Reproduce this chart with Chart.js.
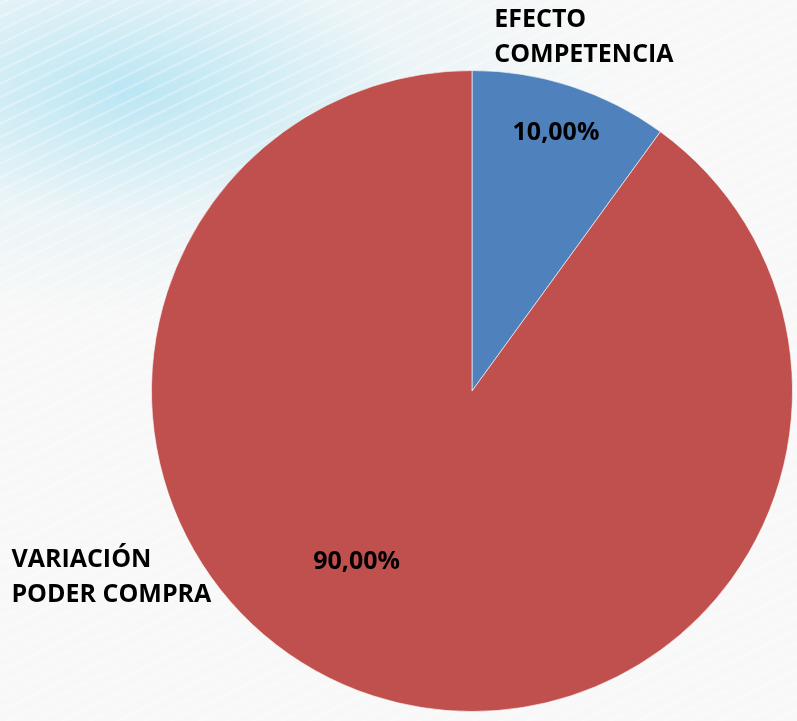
<!DOCTYPE html>
<html>
<head>
<meta charset="utf-8">
<script src="https://cdn.jsdelivr.net/npm/chart.js@4/dist/chart.umd.min.js"></script>
<style>
  html, body { margin: 0; padding: 0; }
  body {
    width: 797px; height: 721px; overflow: hidden;
    background:
      repeating-linear-gradient(-26deg, rgba(255,255,255,0) 0px, rgba(255,255,255,0) 8px, rgba(255,255,255,0.35) 10px, rgba(255,255,255,0) 12px),
      radial-gradient(ellipse 500px 230px at 130px 90px, rgba(160,222,242,0.7), rgba(205,236,245,0.3) 55%, rgba(250,250,250,0) 100%),
      #f8f8f8;
  }
  canvas { display: block; }
</style>
</head>
<body>
<canvas id="pieChart" width="797" height="721"></canvas>
<script>
const categories = ['EFECTO COMPETENCIA', 'VARIACIÓN PODER COMPRA'];
const values = [10, 90];
const valueLabels = ['10,00%', '90,00%'];
const sliceColors = ['#4F81BD', '#C0504D'];

const labelFont = 'bold 25px "Open Sans", "DejaVu Sans", sans-serif';
const lineGap = 35;

// Label anchors: angle in degrees clockwise from 12 o'clock, distance as fraction of radius
const valuePos = [{ ang: 18, frac: 0.848 }, { ang: 214, frac: 0.644 }];
const catPos = [
    { ang: 3.6, frac: 1.105, lines: ['EFECTO', 'COMPETENCIA'] },
    { ang: 248, frac: 1.55, lines: ['VARIACIÓN', 'PODER COMPRA'] }
];

function polar(cx, cy, r, ang, frac) {
    const a = (ang - 90) * Math.PI / 180;
    return { x: cx + Math.cos(a) * r * frac, y: cy + Math.sin(a) * r * frac };
}

const labelPlugin = {
    id: 'pieLabels',
    afterDatasetsDraw(chart) {
        const ctx = chart.ctx;
        const arc = chart.getDatasetMeta(0).data[0];
        const cx = arc.x, cy = arc.y, r = arc.outerRadius;
        ctx.save();
        ctx.font = labelFont;
        ctx.fillStyle = '#000';
        ctx.textBaseline = 'middle';

        valueLabels.forEach((txt, i) => {
            const p = polar(cx, cy, r, valuePos[i].ang, valuePos[i].frac);
            ctx.textAlign = 'center';
            ctx.fillText(txt, p.x, p.y);
        });

        catPos.forEach(c => {
            const p = polar(cx, cy, r, c.ang, c.frac);
            ctx.textAlign = 'left';
            c.lines.forEach((line, j) => {
                ctx.fillText(line, p.x, p.y + (j - (c.lines.length - 1) / 2) * lineGap);
            });
        });
        ctx.restore();
    }
};

new Chart(document.getElementById('pieChart'), {
    type: 'pie',
    data: {
        labels: categories,
        datasets: [{
            data: values,
            backgroundColor: sliceColors,
            borderColor: 'rgba(255,255,255,0.6)',
            borderWidth: 1
        }]
    },
    options: {
        responsive: false,
        animation: false,
        layout: { padding: { left: 151, right: 4, top: 70, bottom: 9 } },
        plugins: {
            legend: { display: false },
            tooltip: { enabled: false }
        }
    },
    plugins: [labelPlugin]
});
</script>
</body>
</html>
